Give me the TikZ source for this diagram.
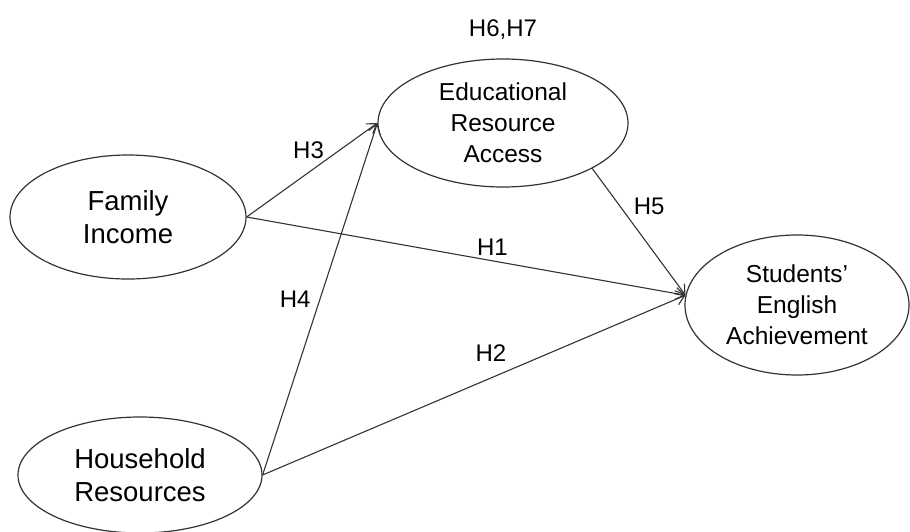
\documentclass[tikz,border=0pt]{standalone}
\usepackage{fontspec}
\setmainfont{Liberation Sans}
\usetikzlibrary{arrows.meta,positioning,shapes.geometric}

\begin{document}
\begin{tikzpicture}[
  x=1pt, y=-1pt,
  font=\fontsize{24.5}{31}\selectfont,
  >={Straight Barb[length=9pt,width=12pt]},
  latent/.style={draw=black!80, ellipse, align=center, inner sep=0pt, line width=1.2pt},
  big/.style={font=\fontsize{27.5}{33}\selectfont},
  path/.style={->, draw=black!80, line width=1.1pt},
  hyp/.style={inner sep=3pt, font=\fontsize{24}{29}\selectfont}
]
  \useasboundingbox (0,0) rectangle (910,531);

  \node[latent, big, minimum width=236pt, minimum height=124pt] (fi) at (128,217) {Family\\Income};
  \node[latent, minimum width=250pt, minimum height=128pt] (er) at (503,123) {Educational\\Resource\\Access};
  \node[latent, minimum width=224pt, minimum height=140pt] (sea) at (797,305) {Students'\\English\\Achievement};
  \node[latent, big, minimum width=244pt, minimum height=116pt] (hr) at (140,475) {Household\\Resources};

  \node[hyp, above=16pt of er] (med) {H6,H7};

  \draw[path] (fi.east) -- node[hyp, pos=0.45, above left=12pt and -22pt] {H3} (er.west);
  \draw[path] (fi.east) -- node[hyp, pos=0.56, above=2pt] {H1} (sea.175);
  \draw[path] (hr.east) -- node[hyp, pos=0.5, left=6pt] {H4} (er.west);
  \draw[path] (hr.east) -- node[hyp, pos=0.54, above=13pt] {H2} (sea.175);
  \draw[path] (er.-27) -- node[hyp, pos=0.3, right=10pt] {H5} (sea.175);
\end{tikzpicture}
\end{document}
